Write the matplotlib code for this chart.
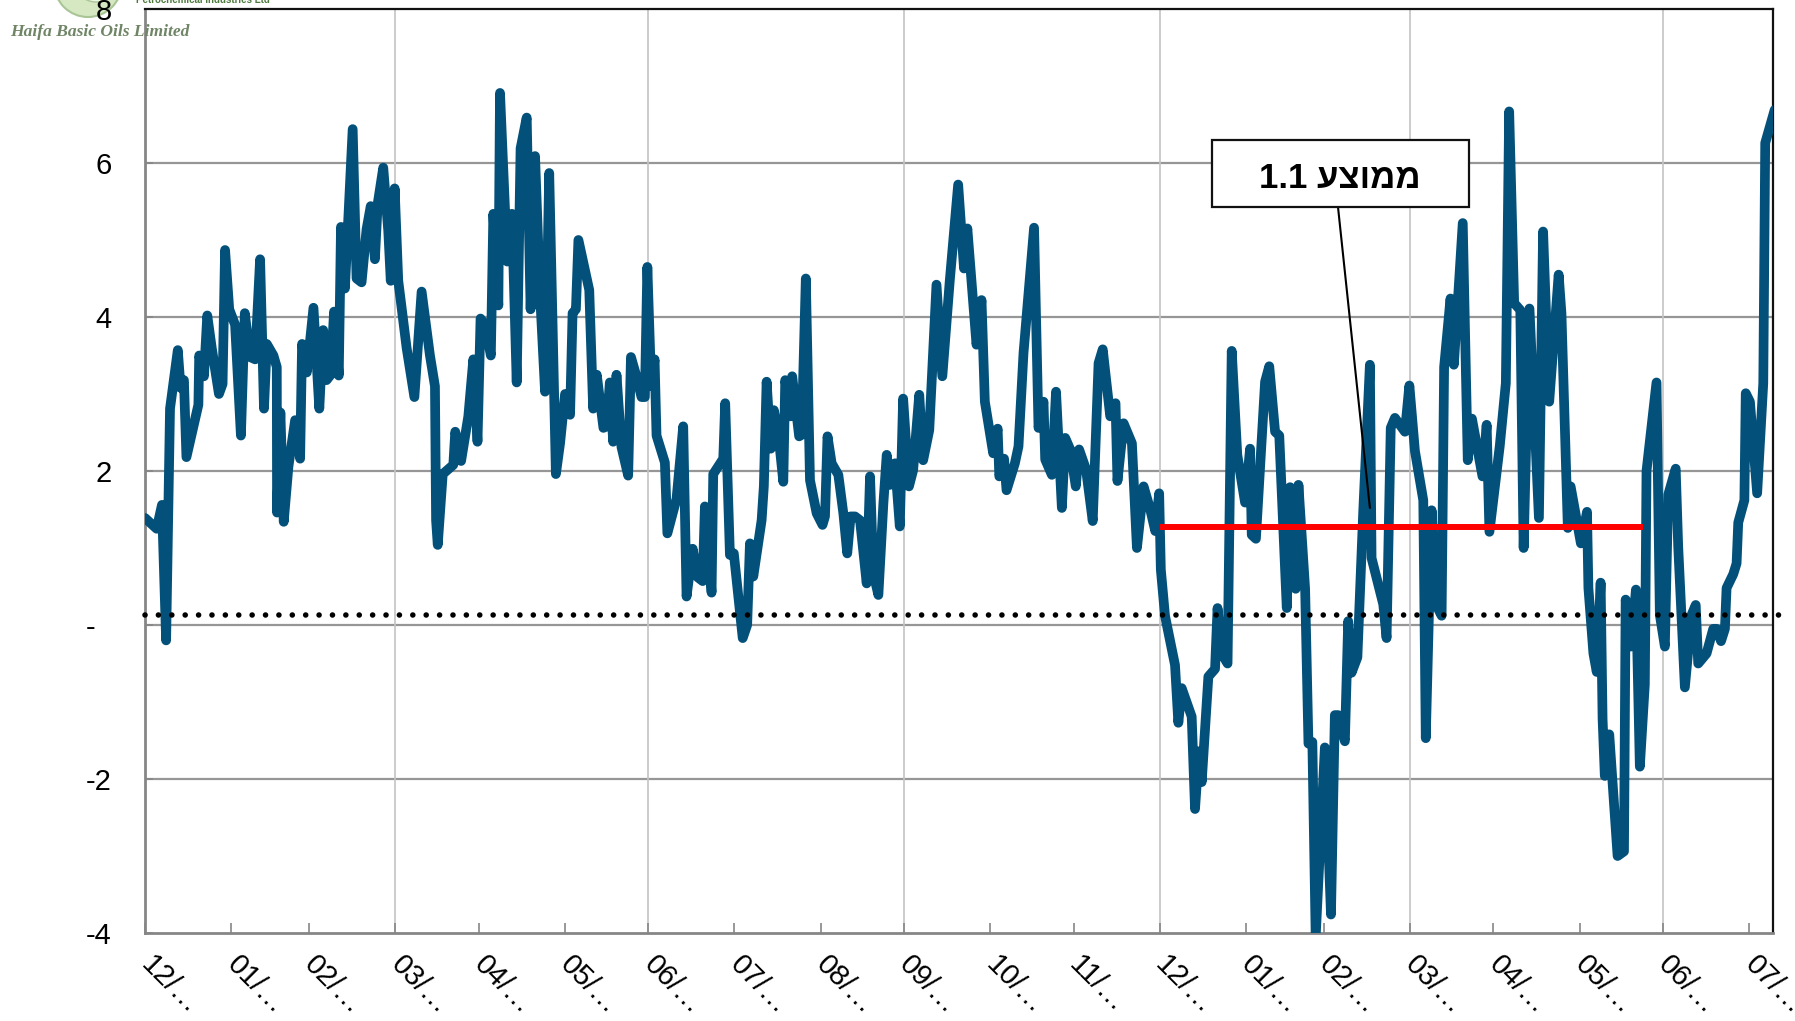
#!/usr/bin/env python3
"""Spread chart with average line, Haifa Basic Oils."""
import matplotlib

matplotlib.use("Agg")
import matplotlib.pyplot as plt
from matplotlib.patches import Ellipse

# days since the first month end
series_day = [
    0, 4.2, 6.1, 7.6, 9.0, 11.8, 12.8, 14.0, 14.9, 16.8, 19.2, 19.5, 21.2, 22.4, 24.0, 26.6, 27.9, 28.8,
    30.3, 32.4, 34.5, 35.9, 37.8, 39.6, 41.4, 42.8, 43.8, 46.2, 47.4, 47.5, 48.7, 49.9, 51.6, 54.0, 55.8,
    56.5, 58.2, 60.6, 62.7, 64.1, 65.3, 66.8, 68.0, 69.7, 70.5, 71.9, 74.7, 76.1, 77.9, 79.7, 81.2, 82.7,
    83.7, 85.7, 87.5, 88.4, 89.8, 91.1, 94.1, 96.9, 99.5, 102.5, 104.3, 104.7, 105.3,
    107.1, 110.9, 111.6, 113.7, 116.3, 118.1, 119.6, 120.7, 122.3, 124.4, 125.3, 127.1, 127.7, 130.3,
    132.0, 133.7, 135.1, 137.3, 138.7, 140.3, 142.1, 143.9, 145.4, 147.8, 149.3, 151.1, 152.9, 153.8,
    155.0, 155.9, 159.8, 161.2, 162.5, 164.9, 166.1, 167.2, 168.4, 169.6, 171.4, 173.8, 174.8, 176.6,
    178.6, 179.8, 180.7, 182.1, 183.3, 184.0, 187.0, 187.9, 191.2, 193.6, 194.8, 197.0, 198.8, 200.6,
    201.4, 203.8, 204.4, 208.0, 208.7, 210.4, 211.8, 215.0, 216.6, 217.6, 218.8, 221.8, 222.6, 223.6,
    225.1, 226.2, 227.8, 229.6, 230.3, 232.2, 232.8, 235.3, 236.2, 237.7, 239.2, 241.6, 243.7, 244.6,
    245.5, 247.0, 249.4, 251.2, 252.6, 253.8, 255.4, 257.2, 259.6, 260.8, 262.0, 263.8, 265.6, 266.8,
    268.0, 269.8, 271.5, 272.7, 274.8, 276.3, 278.5, 279.9, 282.1, 284.7, 286.8, 289.5, 292.5, 294.6,
    295.8, 299.1, 300.9, 302.1, 305.1, 306.7, 307.3, 309.0, 309.9, 312.9, 314.2, 316.0, 319.8, 321.4,
    323.2, 323.8, 326.2, 327.7, 329.8, 331.0, 332.8, 334.8, 336.0, 338.5, 340.9, 343.0, 344.5, 347.2,
    349.1, 349.8, 352.0, 355.0, 356.8, 359.2, 361.6, 363.4, 364.8, 365.4,
    366.9, 370.5, 371.7, 372.9, 376.5, 377.7, 379.1, 380.1, 382.5, 384.9, 385.8, 387.3, 389.4, 390.9,
    392.9, 395.7, 397.5, 398.1, 399.6, 402.9, 404.4, 406.5, 408.0, 410.7, 411.9, 413.9, 414.9, 417.3,
    418.5, 419.9, 421.1, 424.4, 426.6, 428.0, 429.2, 431.6, 432.8, 434.0, 436.1, 438.2, 440.6, 441.2,
    445.4, 446.6, 448.1, 449.6, 453.2, 454.8, 456.8, 459.8, 460.7, 462.8, 464.6, 466.4,
    467.3, 469.6, 470.8, 474.0, 475.8, 477.3, 481.1, 482.6, 483.6, 487.3, 489.5, 490.7, 492.5, 494.7,
    495.9, 498.0, 501.4, 502.9, 505.1, 508.5, 509.5, 511.8, 512.8, 516.5, 518.7, 519.2, 521.0, 522.2,
    523.6, 524.3, 525.1, 526.7, 529.7, 532.0, 532.6, 534.5, 536.3, 537.7, 539.5, 540.1, 543.7, 544.9,
    546.7, 547.9, 550.6, 551.5, 553.9, 556.3, 557.8, 558.7, 561.7, 564.1, 565.3, 566.9, 568.3, 568.9,
    571.3, 572.5, 573.1, 575.3, 575.8, 577.3, 579.9, 582.1, 582.8, 586.2,
]
series_value = [
    1.39, 1.25, 1.56, -0.2, 2.81, 3.57, 3.08, 3.18, 2.18, 2.48, 2.86, 3.5, 3.23, 4.02, 3.6, 3.0, 3.13, 4.87,
    4.1, 3.9, 2.46, 4.05, 3.48, 3.45, 4.75, 2.81, 3.65, 3.5, 3.35, 1.46, 2.76, 1.34, 2.06, 2.66, 2.16,
    3.65, 3.28, 4.12, 2.81, 3.83, 3.18, 3.25, 4.07, 3.24, 5.17, 4.37, 6.44, 4.5, 4.45, 5.14, 5.44, 4.75,
    5.47, 5.94, 5.12, 4.47, 5.67, 4.47, 3.6, 2.96, 4.33, 3.5, 3.1, 1.36, 1.04,
    1.96, 2.08, 2.51, 2.13, 2.71, 3.45, 2.38, 3.98, 3.9, 3.5, 5.34, 4.15, 6.91, 4.72,
    5.34, 3.15, 6.19, 6.59, 4.1, 6.09, 4.3, 3.03, 5.87, 1.96, 2.36, 3.0, 2.73, 4.05,
    4.1, 5.0, 4.35, 2.81, 3.25, 2.56, 2.58, 3.15, 2.38, 3.25, 2.31, 1.94, 3.48, 3.25,
    2.96, 2.96, 4.65, 3.1, 3.45, 2.46, 2.11, 1.19, 1.64, 2.58, 0.37, 0.99, 0.62, 0.57,
    1.54, 0.42, 1.96, 2.16, 2.88, 0.91, 0.93, -0.17, 0, 1.06, 0.63, 1.36, 1.8, 3.16,
    2.29, 2.79, 2.49, 1.86, 3.18, 2.71, 3.23, 2.45, 2.47, 4.5, 1.88, 1.45, 1.3, 1.41,
    2.45, 2.1, 1.95, 1.45, 0.93, 1.41, 1.41, 1.36, 0.54, 1.93, 0.67, 0.39, 1.58, 2.21,
    1.82, 2.1, 1.28, 2.94, 1.8, 2.01, 2.99, 2.14, 2.53, 4.42, 3.23, 4.48, 5.72, 4.63,
    5.15, 3.64, 4.22, 2.9, 2.23, 2.55, 1.93, 2.16, 1.75, 2.1, 2.32, 3.53, 5.16, 2.56,
    2.9, 2.15, 1.95, 3.03, 1.52, 2.43, 2.28, 1.8, 2.28, 2.02, 1.35, 3.4, 3.58, 2.71,
    2.88, 1.87, 2.62, 2.36, 1.0, 1.8, 1.5, 1.22, 1.71, 0.72,
    0.12, -0.52, -1.27, -0.82, -1.19, -2.39, -1.64, -2.04, -0.67, -0.57, 0.22, -0.37, -0.5, 3.56,
    2.21, 1.59, 2.29, 1.17, 1.12, 3.16, 3.36, 2.51, 2.46, 0.22, 1.79, 0.47, 1.82, 0.47,
    -1.54, -1.52, -4.05, -1.59, -3.76, -1.17, -1.17, -1.51, 0.05, -0.62, -0.42, 1.47, 3.38, 0.87,
    0.27, -0.17, 2.56, 2.69, 2.51, 3.11, 2.26, 1.62, -1.47, 1.49, 0.25, 0.12,
    3.35, 4.24, 3.38, 5.22, 2.14, 2.68, 1.93, 2.6, 1.21, 2.32, 3.14, 6.67, 4.18, 4.09,
    1.0, 4.11, 1.39, 5.11, 2.9, 4.55, 4.05, 1.26, 1.8, 1.06, 1.47, 0.48, -0.37, -0.61,
    0.55, -1.22, -1.96, -1.42, -3.0, -2.94, 0.33, -0.28, 0.46, -1.84, -0.77, 2.0, 3.15, 0.13,
    -0.28, 1.69, 2.03, 1.02, -0.81, 0.13, 0.26, -0.5, -0.37, -0.05, -0.05, -0.21, -0.05, 0.48,
    0.66, 0.8, 1.33, 1.62, 3.01, 2.9, 1.71, 3.14, 6.26, 6.69,
]

tick_days = [0, 31, 59, 90, 120, 151, 181, 212, 243, 273, 304, 334, 365, 396, 424, 455, 485, 516, 546, 577]
tick_labels = ["12/…", "01/…", "02/…", "03/…", "04/…", "05/…", "06/…", "07/…", "08/…", "09/…",
               "10/…", "11/…", "12/…", "01/…", "02/…", "03/…", "04/…", "05/…", "06/…", "07/…"]
quarter_days = [90, 181, 273, 365, 455, 546]
y_ticks = [-4, -2, 0, 2, 4, 6, 8]
y_labels = ["-4", "-2", "-  ", "2", "4", "6", "8"]

average_days = [365, 539]
average_value = [1.27, 1.27]
dotted_days = [0, 589]
dotted_value = [0.13, 0.13]

W, H = 1795, 1021
plt.rcParams["font.family"] = ["Liberation Sans", "DejaVu Sans"]

fig = plt.figure(figsize=(W / 100, H / 100), dpi=100)
ax = fig.add_axes([145 / W, 1 - 933 / H, (1773 - 145) / W, (933 - 9) / H])
ax.set_xlim(0, 585.6)
ax.set_ylim(-4, 8)
ax.set_zorder(2)
ax.patch.set_alpha(0)

# logo in the corner
fig.patches.append(Ellipse((88 / W, 1 + 17 / H), 68 / W, 68 / H, transform=fig.transFigure,
                           facecolor="#d5e8c2", edgecolor="#a9c596", lw=1.5))
fig.patches.append(Ellipse((96 / W, 1 + 20 / H), 44 / W, 44 / H, transform=fig.transFigure,
                           facecolor="#eef6e4", edgecolor="#a9c596", lw=1))
fig.text(10 / W, 1 - 32 / H, "Haifa Basic Oils Limited", family="Liberation Serif", style="italic",
         weight="bold", fontsize=12.6, color="#6f8566", va="center", ha="left")
fig.text(136 / W, 1, "Petrochemical Industries Ltd", family="Liberation Sans", weight="bold",
         fontsize=7, color="#4f7a3f", va="center", ha="left")

ax.set_yticks(y_ticks)
ax.set_yticklabels(y_labels, fontsize=21, color="black")
ax.set_xticks(tick_days)
ax.set_xticklabels(tick_labels, fontsize=21, rotation=-45, rotation_mode="anchor", ha="left", va="center")
ax.tick_params(axis="y", direction="in", length=6, width=1.2, color="#868686", pad=24)
ax.tick_params(axis="x", direction="in", length=7, width=1.2, color="#868686", pad=20)

for y in y_ticks[1:-1]:
    ax.axhline(y, color="#969696", lw=1.6, zorder=1)
for d in quarter_days:
    ax.axvline(d, color="#c4c4c4", lw=1.2, zorder=1)

for side in ("left", "bottom"):
    ax.spines[side].set_color("#868686")
    ax.spines[side].set_linewidth(2)
for side in ("top", "right"):
    ax.spines[side].set_color("#111111")
    ax.spines[side].set_linewidth(1.6)

ax.plot(series_day, series_value, color="#03517a", lw=7, solid_joinstyle="round",
        solid_capstyle="round", zorder=3)
ax.plot(average_days, average_value, color="#ff0000", lw=4.3, solid_capstyle="butt", zorder=4)
ax.plot(dotted_days, dotted_value, color="black", lw=4, linestyle=(0, (0.01, 2.4)),
        dash_capstyle="round", clip_on=False, zorder=5)

# callout box with leader
ax.annotate("", xy=(440.6, 1.52), xytext=(1338 / W, 1 - 207 / H), textcoords="figure fraction",
            arrowprops=dict(arrowstyle="-", color="black", lw=1.5, shrinkA=0, shrinkB=0), zorder=6)
ax.add_patch(plt.Rectangle((1212 / W, 1 - 207 / H), 257 / W, 67 / H, transform=fig.transFigure,
                           facecolor="white", edgecolor="#111111", lw=1.6, zorder=6))
ax.text(1340 / W, 1 - 178 / H, "1.1 עצוממ", transform=fig.transFigure, fontsize=25, weight="bold",
        ha="center", va="center", zorder=7)

fig.savefig("out.png", dpi=100)
